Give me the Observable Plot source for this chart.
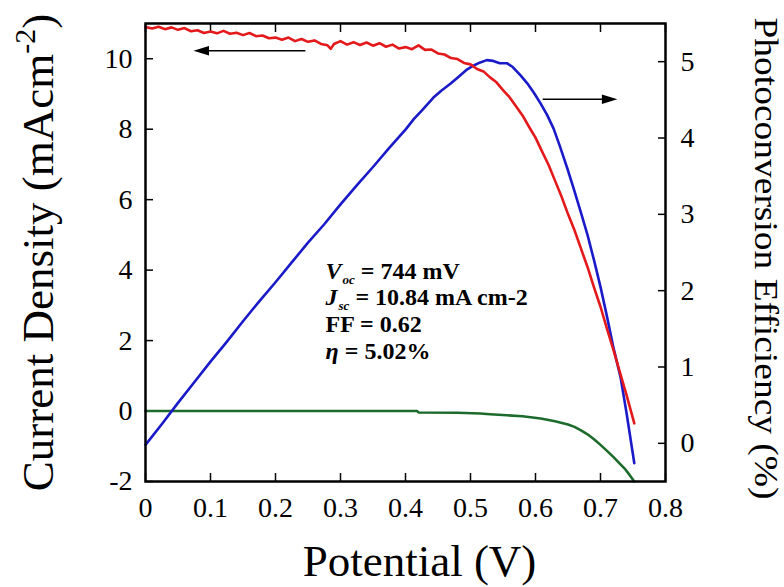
<!DOCTYPE html>
<html>
<head>
<meta charset="utf-8">
<script src="https://cdn.jsdelivr.net/npm/d3@7"></script>
<script src="https://cdn.jsdelivr.net/npm/@observablehq/plot@0.6"></script>
<style>
  html, body { margin: 0; padding: 0; background: #fff; }
  #chart svg { display: block; }
  #chart svg text { font-family: "Liberation Serif", "Times New Roman", serif !important; }
</style>
</head>
<body>
<div id="chart"></div>
<script>
// ---------- data ----------
// Photocurrent density (red), left axis
const potentialRed = [0.000,0.010,0.020,0.030,0.040,0.050,0.060,0.070,0.080,0.090,0.100,0.110,0.120,0.130,0.140,0.150,0.160,0.170,0.180,0.190,0.200,0.210,0.220,0.230,0.240,0.250,0.260,0.270,0.280,0.285,0.290,0.300,0.310,0.320,0.330,0.340,0.350,0.360,0.370,0.380,0.390,0.400,0.410,0.420,0.430,0.440,0.450,0.460,0.470,0.480,0.490,0.500,0.510,0.520,0.530,0.540,0.550,0.560,0.570,0.580,0.590,0.600,0.610,0.620,0.630,0.640,0.650,0.660,0.670,0.680,0.690,0.700,0.710,0.720,0.730,0.740,0.752];
const currentRed = [10.90,10.86,10.91,10.84,10.89,10.82,10.87,10.78,10.81,10.73,10.77,10.72,10.79,10.71,10.74,10.67,10.73,10.64,10.66,10.58,10.60,10.54,10.60,10.50,10.56,10.48,10.52,10.42,10.38,10.28,10.42,10.50,10.40,10.47,10.39,10.46,10.37,10.44,10.34,10.40,10.29,10.33,10.27,10.38,10.25,10.26,10.15,10.12,10.02,9.99,9.88,9.84,9.71,9.64,9.47,9.33,9.11,8.91,8.65,8.39,8.07,7.76,7.37,6.99,6.54,6.09,5.59,5.13,4.61,4.09,3.51,2.96,2.33,1.73,1.09,0.46,-0.35];

// Photoconversion efficiency (blue), right axis
const potentialBlue = [0.000,0.025,0.050,0.075,0.100,0.125,0.150,0.175,0.200,0.225,0.250,0.275,0.300,0.325,0.350,0.375,0.400,0.413,0.425,0.443,0.455,0.469,0.480,0.495,0.505,0.515,0.525,0.535,0.545,0.556,0.565,0.577,0.587,0.597,0.608,0.618,0.628,0.638,0.649,0.659,0.669,0.680,0.690,0.700,0.710,0.720,0.731,0.740,0.752];
const efficiencyBlue = [-0.02,0.25,0.53,0.80,1.07,1.33,1.60,1.86,2.11,2.37,2.63,2.87,3.13,3.38,3.62,3.87,4.11,4.25,4.36,4.53,4.62,4.71,4.79,4.90,4.95,4.99,5.02,5.01,4.98,4.98,4.93,4.82,4.72,4.60,4.45,4.30,4.12,3.88,3.60,3.33,3.05,2.73,2.40,2.05,1.66,1.25,0.86,0.40,-0.26];

// Dark current (green), left axis
const potentialGreen = [0.000,0.100,0.200,0.300,0.418,0.420,0.480,0.515,0.530,0.556,0.580,0.608,0.630,0.650,0.660,0.670,0.680,0.690,0.700,0.710,0.720,0.730,0.738,0.745,0.752];
const currentDark = [0.00,0.00,0.00,0.00,0.00,-0.04,-0.05,-0.07,-0.09,-0.12,-0.15,-0.21,-0.29,-0.38,-0.45,-0.55,-0.66,-0.80,-0.96,-1.13,-1.31,-1.50,-1.65,-1.82,-2.00];

// Axes
const xTicks = [0, 0.1, 0.2, 0.3, 0.4, 0.5, 0.6, 0.7, 0.8];
const xTickLabels = ["0", "0.1", "0.2", "0.3", "0.4", "0.5", "0.6", "0.7", "0.8"];
const leftTicks = [-2, 0, 2, 4, 6, 8, 10];
const rightTicks = [0, 1, 2, 3, 4, 5];
const xTitle = "Potential (V)";
const leftTitle = "Current Density (mAcm-2)";
const rightTitle = "Photoconversion Efficiency (%)";

// Annotation
const annotationLines = ["Voc = 744 mV", "Jsc = 10.84 mA cm-2", "FF = 0.62", "η = 5.02%"];

// ---------- chart ----------
const leftDomain = [-2, 11];
const rightDomain = [-0.5, 5.5];
const effToJ = e => leftDomain[0] + (e - rightDomain[0]) * (leftDomain[1] - leftDomain[0]) / (rightDomain[1] - rightDomain[0]);
const jToEff = j => rightDomain[0] + (j - leftDomain[0]) * (rightDomain[1] - rightDomain[0]) / (leftDomain[1] - leftDomain[0]);

const redData = potentialRed.map((v, i) => ({v, j: currentRed[i]}));
const blueData = potentialBlue.map((v, i) => ({v, j: effToJ(efficiencyBlue[i])}));
const greenData = potentialGreen.map((v, i) => ({v, j: currentDark[i]}));

const headLeft = {draw(ctx, size) { const r = Math.sqrt(size / Math.PI); ctx.moveTo(0, 0); ctx.lineTo(3.1 * r, -0.95 * r); ctx.lineTo(3.1 * r, 0.95 * r); ctx.closePath(); }};
const headRight = {draw(ctx, size) { const r = Math.sqrt(size / Math.PI); ctx.moveTo(0, 0); ctx.lineTo(-3.1 * r, -0.95 * r); ctx.lineTo(-3.1 * r, 0.95 * r); ctx.closePath(); }};

const serif = "Liberation Serif";

const chart = Plot.plot({
  width: 784,
  height: 587,
  marginLeft: 145,
  marginRight: 119,
  marginTop: 23,
  marginBottom: 106,
  style: {fontFamily: serif, background: "#fff", color: "#000", overflow: "visible"},
  x: {domain: [0, 0.8]},
  y: {domain: leftDomain},
  marks: [
    Plot.axisX(xTicks, {anchor: "bottom", tickSize: -8, tickPadding: 24, strokeWidth: 1.5, fontSize: 28, fontFamily: serif,
      tickFormat: d => xTickLabels[xTicks.indexOf(d)], label: null}),
    Plot.axisX(xTicks, {anchor: "top", tickSize: -8, strokeWidth: 1.5, fill: "none", label: null}),
    Plot.axisY(leftTicks, {anchor: "left", tickSize: -8, tickPadding: 21, strokeWidth: 1.5, fontSize: 28, fontFamily: serif,
      tickFormat: d => String(d), label: null}),
    Plot.axisY(rightTicks.map(effToJ), {anchor: "right", tickSize: -8, tickPadding: 23, strokeWidth: 1.5, fontSize: 28, fontFamily: serif,
      tickFormat: d => String(Math.round(jToEff(d))), label: null}),
    Plot.line(greenData, {x: "v", y: "j", stroke: "#1d6b2c", strokeWidth: 2.6}),
    Plot.line(blueData, {x: "v", y: "j", stroke: "#1a1ac8", strokeWidth: 2.6}),
    Plot.line(redData, {x: "v", y: "j", stroke: "#e3191c", strokeWidth: 2.6}),
    // arrows
    Plot.link({length: 1}, {x1: [0.246], x2: [0.08], y1: [10.225], y2: [10.225], stroke: "#000", strokeWidth: 1.5}),
    Plot.dot({length: 1}, {x: [0.0738], y: [10.225], r: 5, symbol: headLeft, fill: "#000", stroke: "none"}),
    Plot.link({length: 1}, {x1: [0.611], x2: [0.72], y1: [8.85], y2: [8.85], stroke: "#000", strokeWidth: 1.5}),
    Plot.dot({length: 1}, {x: [0.726], y: [8.85], r: 5, symbol: headRight, fill: "#000", stroke: "none"}),
    // annotation block
    Plot.text(annotationLines, {x: () => 0.277, y: (d, i) => 3.76 - i * 0.76, text: d => d,
      textAnchor: "start", lineAnchor: "bottom", fontSize: 24, fontWeight: "bold", fontFamily: serif, fill: "#000"}),
    // axis titles
    Plot.text([xTitle], {frameAnchor: "bottom", dx: 14, dy: 80, textAnchor: "middle", lineAnchor: "middle", fontSize: 45, fontFamily: serif, fill: "#000"}),
    Plot.text([leftTitle], {frameAnchor: "left", dx: -107, rotate: -90, textAnchor: "middle", lineAnchor: "middle", fontSize: 45, fontFamily: serif, fill: "#000"}),
    Plot.text([rightTitle], {frameAnchor: "right", dx: 100, dy: 6, rotate: 90, textAnchor: "middle", lineAnchor: "middle", fontSize: 34, fontFamily: serif, fill: "#000"}),
    Plot.frame({stroke: "#000", strokeWidth: 2.5})
  ]
});

// rich text (italics, subscripts, superscript)
d3.select(chart).selectAll("text").each(function () {
  const t = this.textContent;
  const s = d3.select(this);
  if (t === annotationLines[0] || t === annotationLines[1]) {
    const main = t[0], sub = t.slice(1, 3), rest = t.slice(4);
    s.text(null);
    s.append("tspan").attr("font-style", "italic").text(main);
    s.append("tspan").attr("font-style", "italic").attr("font-size", 13).attr("dy", 5).attr("dx", 1).text(sub);
    s.append("tspan").attr("dy", -5).attr("dx", 6).text(rest);
  } else if (t === annotationLines[3]) {
    const rest = t.slice(2);
    s.text(null);
    s.append("tspan").attr("font-style", "italic").text(t[0]);
    s.append("tspan").attr("dx", 6).text(rest);
  } else if (t === leftTitle) {
    const base = t.slice(0, t.indexOf("-2")), sup = "-2", tail = t.slice(t.indexOf("-2") + 2);
    s.text(null);
    s.append("tspan").text(base);
    s.append("tspan").attr("font-size", 30).attr("dy", -18).text(sup);
    s.append("tspan").attr("dy", 18).text(tail);
  } else if (t === rightTitle) {
    s.attr("textLength", 482).attr("lengthAdjust", "spacingAndGlyphs");
  }
});

document.getElementById("chart").appendChild(chart);
</script>
</body>
</html>
